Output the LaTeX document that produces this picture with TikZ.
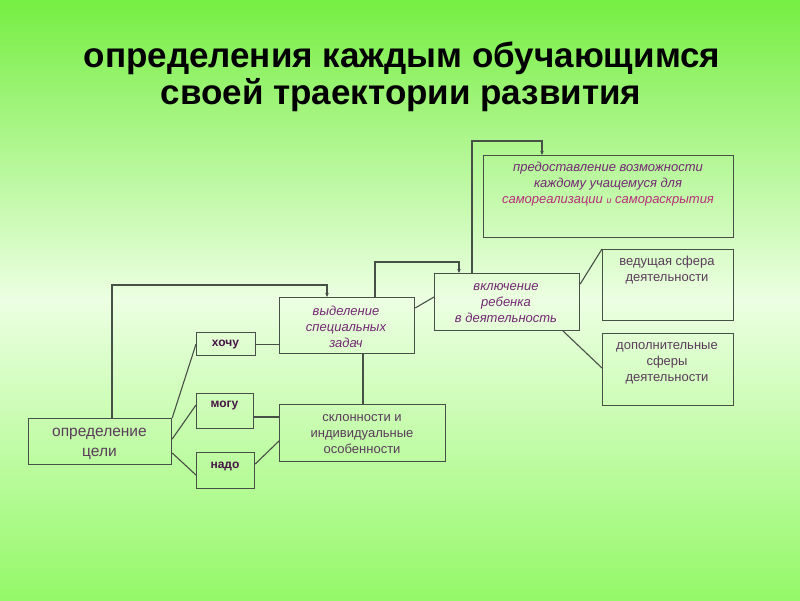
\documentclass[tikz,border=0pt]{standalone}
\usepackage{fontspec}
\setmainfont{Liberation Sans}
\usetikzlibrary{arrows.meta}
\definecolor{bgtop}{RGB}{118,238,66}
\definecolor{bgmid}{RGB}{236,255,226}
\definecolor{bgbot}{RGB}{148,248,104}
\definecolor{edge}{RGB}{70,80,70}
\definecolor{purp}{RGB}{115,40,115}
\definecolor{grayp}{RGB}{90,60,90}
\definecolor{pinkc}{RGB}{185,45,120}
\definecolor{boldp}{RGB}{70,20,70}
\tikzset{
  box/.style={draw=edge, line width=1.2pt, inner sep=0pt, anchor=north west},
  itxt/.style={font=\fontsize{13}{15.8}\selectfont\itshape, text=purp, align=center, inner sep=0pt},
  ntxt/.style={font=\fontsize{13}{15.8}\selectfont, text=grayp, align=center, inner sep=0pt},
  btxt/.style={font=\fontsize{12}{15}\selectfont\bfseries, text=boldp, inner sep=0pt},
  ttl/.style={font=\fontsize{35}{38}\selectfont\bfseries, text=black, anchor=base, inner sep=0pt},
  conn/.style={draw=edge, line width=1.1pt},
  arr/.style={conn, -{Stealth[length=4pt,width=3.5pt]}}
}
\begin{document}
\begin{tikzpicture}[x=1pt,y=-1pt]
\useasboundingbox (0,0) rectangle (800,600);
\shade[top color=bgtop, bottom color=bgbot, middle color=bgmid] (0,0) rectangle (800,600);
% title
\node[ttl] (title1) at (402,67) {определения каждым обучающимся};
\node[ttl] (title2) at (401,104) {своей траектории развития};
% boxes
\node[box, minimum width=250pt, minimum height=82pt] (pred) at (483,155) {};
\node[itxt] (predt) at (608,184) {предоставление возможности\\каждому учащемуся для\\\textcolor{pinkc}{самореализации {\fontsize{9}{10}\selectfont и} самораскрытия}};
\node[box, minimum width=131pt, minimum height=71pt] (ved) at (602,249) {};
\node[ntxt] (vedt) at (667,270) {ведущая сфера\\деятельности};
\node[box, minimum width=131pt, minimum height=72pt] (dop) at (602,333) {};
\node[ntxt] (dopt) at (667,363) {дополнительные\\сферы\\деятельности};
\node[box, minimum width=145pt, minimum height=57pt] (vkl) at (434,273) {};
\node[itxt] (vklt) at (506,303) {включение\\ребенка\\в деятельность};
\node[box, minimum width=135pt, minimum height=56pt] (vyd) at (279,297) {};
\node[itxt] (vydt) at (346,327) {выделение\\специальных\\задач};
\node[box, minimum width=59pt, minimum height=23pt] (hochu) at (196,332) {};
\node[btxt] (hochut) at (225.5,345) {хочу};
\node[box, minimum width=57pt, minimum height=35pt] (mogu) at (196,393) {};
\node[btxt] (mogut) at (224.5,406) {могу};
\node[box, minimum width=58pt, minimum height=36pt] (nado) at (196,452) {};
\node[btxt] (nadot) at (225,466) {надо};
\node[box, minimum width=166pt, minimum height=57pt] (skl) at (279,404) {};
\node[ntxt] (sklt) at (362,434) {склонности и\\индивидуальные\\особенности};
\node[box, minimum width=143pt, minimum height=46pt] (opr) at (28,418) {};
\node[ntxt, font=\fontsize{15.5}{20}\selectfont] (oprt) at (99.5,444) {определение\\цели};
% connectors
\draw[arr] (opr.north west -| 112,0) |- (327,285) -- (vyd.north west -| 327,0);
\draw[arr] (vyd.north west -| 375,0) |- (459,262) -- (vkl.north west -| 459,0);
\draw[arr] (vkl.north west -| 472,0) |- (542,141) -- (pred.north west -| 542,0);
\draw[conn] (vyd.north east |- 0,308) -- (vkl.north west |- 0,297);
\draw[conn] (vkl.north east |- 0,284) -- (ved.north west);
\draw[conn] (563,331) -- (dop.north west |- 0,368);
\draw[conn] (hochu.east) -- (vyd.west |- hochu.east);
\draw[conn] (opr.north east) -- (hochu.west);
\draw[conn] (opr.east |- 0,439) -- (mogu.west |- 0,405);
\draw[conn] (opr.east |- 0,453) -- (nado.west |- 0,475);
\draw[conn] (mogu.east |- 0,417) -- (skl.west |- 0,417);
\draw[conn] (nado.east |- 0,464) -- (skl.west |- 0,441);
\draw[conn] (vyd.south west -| 363,0) -- (skl.north west -| 363,0);
\end{tikzpicture}
\end{document}
